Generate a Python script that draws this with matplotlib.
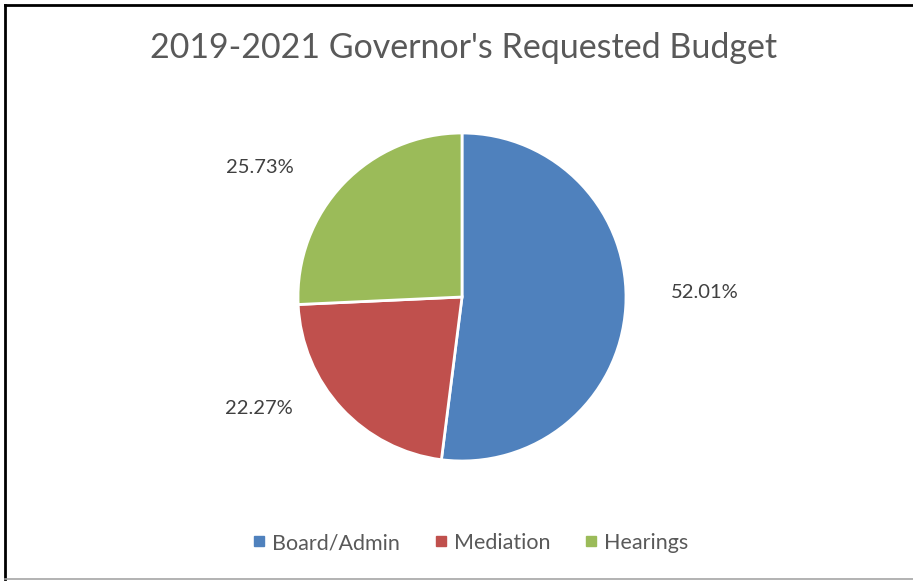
import matplotlib.pyplot as plt
from matplotlib.lines import Line2D

# data
categories = ["Board/Admin", "Mediation", "Hearings"]
shares = [52.01, 22.27, 25.73]
colors = ["#4F81BD", "#C0504D", "#9BBB59"]

# label positions (excel "best fit" layout, in pie radius units)
label_pos = [(1.48, 0.03), (-1.24, -0.68), (-1.23, 0.79)]

plt.rcParams["font.family"] = ["Lato", "DejaVu Sans"]

W, H = 913, 581
fig = plt.figure(figsize=(W / 100, H / 100), dpi=100)

# pie axes: centre (462, 297) px, radius 164 px
cx, cy, r = 462, 297, 164
ax = fig.add_axes([(cx - r) / W, (H - cy - r) / H, 2 * r / W, 2 * r / H])

wedges, texts, autotexts = ax.pie(
    shares, colors=colors, startangle=90, counterclock=False,
    autopct="%.2f%%", pctdistance=1.4,
    wedgeprops=dict(edgecolor="white", linewidth=2),
    textprops=dict(color="#404040", fontsize=14.5),
)
# shares add up to 100.01, so write the values as given
for t, v, (x, y) in zip(autotexts, shares, label_pos):
    t.set_text(f"{v:.2f}%")
    t.set_position((x, y))
ax.set_xlim(-1, 1)
ax.set_ylim(-1, 1)
ax.set_aspect("equal")
ax.axis("off")

fig.text(0.508, 1 - 48 / H, "2019-2021 Governor's Requested Budget",
         ha="center", va="center", fontsize=24.5, color="#595959")

handles = [Line2D([], [], marker="s", linestyle="", markersize=7, color=c) for c in colors]
fig.legend(handles, categories, loc="center", bbox_to_anchor=(0.512, 1 - 543 / H),
           ncol=3, frameon=False, fontsize=15.5, handletextpad=0.0,
           handlelength=1.2, columnspacing=1.3, labelcolor="#595959")

# chart border
fig.add_artist(Line2D([5 / W, 1], [1 - 5 / H, 1 - 5 / H], color="black", linewidth=2))
fig.add_artist(Line2D([5 / W, 5 / W], [1 - 5 / H, 1 - 579 / H], color="black", linewidth=2))
fig.add_artist(Line2D([5 / W, 1], [1 - 579 / H, 1 - 579 / H], color="#A6A6A6", linewidth=1.2))

fig.savefig("out.png", dpi=100)
